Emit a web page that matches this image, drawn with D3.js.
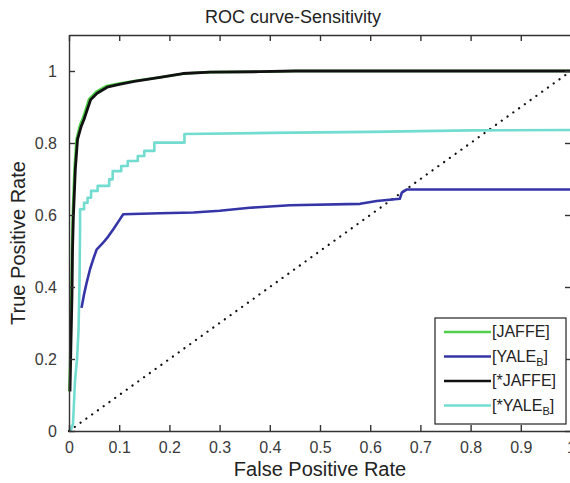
<!DOCTYPE html>
<html>
<head>
<meta charset="utf-8">
<script src="https://d3js.org/d3.v7.min.js"></script>
<style>
  body { margin: 0; background: #fff; }
  svg { display: block; font-family: "Liberation Sans", Arial, sans-serif; }
</style>
</head>
<body>
<div id="chart"></div>
<script>
// values
var xTicks = [0, 0.1, 0.2, 0.3, 0.4, 0.5, 0.6, 0.7, 0.8, 0.9, 1];
var yTicks = [0, 0.2, 0.4, 0.6, 0.8, 1];

// [JAFFE] (green, mostly hidden under the black one)
var jaffe = [[0.001,0.11],[0.003,0.25],[0.005,0.39],[0.006,0.5],[0.0075,0.6],[0.011,0.73],[0.015,0.81],[0.022,0.85],[0.028,0.87],[0.04,0.922],[0.054,0.942],[0.074,0.958],[0.1,0.965],[0.13,0.972],[0.18,0.982],[0.23,0.993],[0.28,0.997],[0.38,0.998],[0.45,1],[1,1]];
// [YALE_B]
var yale = [[0.025,0.342],[0.03,0.38],[0.035,0.411],[0.042,0.45],[0.048,0.476],[0.055,0.504],[0.068,0.523],[0.078,0.54],[0.088,0.56],[0.1,0.585],[0.108,0.602],[0.181,0.605],[0.248,0.607],[0.3,0.612],[0.36,0.62],[0.44,0.627],[0.58,0.631],[0.613,0.639],[0.659,0.645],[0.663,0.662],[0.673,0.671],[1,0.671]];
// [*JAFFE]
var starJaffe = [[0.002,0.11],[0.004,0.25],[0.006,0.38],[0.007,0.5],[0.0086,0.59],[0.0126,0.727],[0.017,0.81],[0.024,0.845],[0.03,0.866],[0.043,0.92],[0.056,0.938],[0.076,0.955],[0.1,0.963],[0.13,0.971],[0.181,0.982],[0.227,0.993],[0.281,0.997],[0.38,0.998],[0.45,1],[1,1]];
// [*YALE_B]
var starYale = [[0.003,0],[0.008,0.02],[0.012,0.14],[0.016,0.2],[0.019,0.28],[0.021,0.42],[0.022,0.56],[0.022,0.616],[0.030,0.616],[0.030,0.634],[0.037,0.634],[0.037,0.648],[0.044,0.648],[0.044,0.667],[0.057,0.667],[0.057,0.681],[0.080,0.681],[0.080,0.699],[0.087,0.699],[0.087,0.722],[0.104,0.722],[0.104,0.736],[0.117,0.736],[0.117,0.750],[0.137,0.750],[0.137,0.764],[0.150,0.764],[0.150,0.778],[0.170,0.778],[0.170,0.801],[0.230,0.801],[0.230,0.825],[0.4,0.828],[0.6,0.831],[0.8,0.835],[1,0.836]];
var chance = [[0,0],[1,1]];

var series = [
  {label: "[JAFFE]", sub: "", tail: "", values: jaffe, color: "#4fd04a"},
  {label: "[YALE", sub: "B", tail: "]", values: yale, color: "#3535a8"},
  {label: "[*JAFFE]", sub: "", tail: "", values: starJaffe, color: "#111"},
  {label: "[*YALE", sub: "B", tail: "]", values: starYale, color: "#72dcd0"}
];

var width = 570, height = 483;
var margin = {left: 69, top: 35, right: -1, bottom: 52};

var x = d3.scaleLinear().domain([0, 1]).range([margin.left, width - margin.right]);
var y = d3.scaleLinear().domain([0, 1.1]).range([height - margin.bottom, margin.top]);

var svg = d3.select("#chart").append("svg")
  .attr("width", width)
  .attr("height", height);

var line = d3.line()
  .x(function(d) { return x(d[0]); })
  .y(function(d) { return y(d[1]); });

// dotted diagonal
svg.append("path")
  .attr("d", line(chance))
  .attr("fill", "none")
  .attr("stroke", "#111")
  .attr("stroke-width", 2.2)
  .attr("stroke-linecap", "round")
  .attr("stroke-dasharray", "0.1,7");

// curves, green drawn first so black sits on it
var drawOrder = [series[0], series[3], series[1], series[2]];
svg.selectAll(".curve")
  .data(drawOrder)
  .enter().append("path")
  .attr("class", "curve")
  .attr("d", function(d) { return line(d.values); })
  .attr("fill", "none")
  .attr("stroke", function(d) { return d.color; })
  .attr("stroke-width", function(d) { return d.color == "#111" ? 2.8 : 2.6; })
  .attr("stroke-linejoin", "round");

// axes with inward ticks on all four sides
var axisColor = "#333";
function styleAxis(g) {
  g.selectAll("path").attr("stroke", axisColor).attr("stroke-width", 1.4);
  g.selectAll("line").attr("stroke", axisColor).attr("stroke-width", 1.4);
  g.selectAll("text").attr("fill", "#3a3a3a").style("font-size", "16px");
}

svg.append("g")
  .attr("transform", "translate(0," + y(0) + ")")
  .call(d3.axisBottom(x).tickValues(xTicks).tickSize(-6).tickSizeOuter(0).tickPadding(11)
    .tickFormat(function(d) { return d === 1 ? "1" : d === 0 ? "0" : d3.format(".1f")(d); }))
  .call(styleAxis);

svg.append("g")
  .attr("transform", "translate(0," + y(1.1) + ")")
  .call(d3.axisTop(x).tickValues(xTicks).tickSize(-6).tickSizeOuter(0).tickFormat(""))
  .call(styleAxis);

svg.append("g")
  .attr("transform", "translate(" + x(0) + ",0)")
  .call(d3.axisLeft(y).tickValues(yTicks).tickSize(-6).tickSizeOuter(0).tickPadding(12)
    .tickFormat(function(d) { return d === 0 || d === 1 ? String(d) : d3.format(".1f")(d); }))
  .call(styleAxis);

svg.append("g")
  .attr("transform", "translate(" + x(1) + ",0)")
  .call(d3.axisRight(y).tickValues(yTicks).tickSize(-6).tickSizeOuter(0).tickFormat(""))
  .call(styleAxis);

// titles
svg.append("text")
  .attr("x", 293).attr("y", 23)
  .attr("text-anchor", "middle")
  .attr("fill", "#222")
  .style("font-size", "18px")
  .text("ROC curve-Sensitivity");

svg.append("text")
  .attr("x", 320).attr("y", 476)
  .attr("text-anchor", "middle")
  .attr("fill", "#222")
  .style("font-size", "20px")
  .text("False Positive Rate");

svg.append("text")
  .attr("transform", "translate(25,243) rotate(-90)")
  .attr("text-anchor", "middle")
  .attr("fill", "#222")
  .style("font-size", "20px")
  .text("True Positive Rate");

// legend
var legend = svg.append("g").attr("transform", "translate(435,318)");
legend.append("rect")
  .attr("width", 131).attr("height", 106)
  .attr("fill", "#fff")
  .attr("stroke", "#222")
  .attr("stroke-width", 1.2);

var rows = legend.selectAll(".row")
  .data(series)
  .enter().append("g")
  .attr("class", "row")
  .attr("transform", function(d, i) { return "translate(0," + (14 + i * 24.5) + ")"; });

rows.append("line")
  .attr("x1", 9).attr("x2", 56)
  .attr("stroke", function(d) { return d.color; })
  .attr("stroke-width", 2.6);

var lt = rows.append("text")
  .attr("x", 57).attr("y", 5)
  .attr("fill", "#222")
  .style("font-size", "16px");
lt.append("tspan").text(function(d) { return d.label; });
lt.append("tspan")
  .attr("dy", 4)
  .style("font-size", "11px")
  .text(function(d) { return d.sub; });
lt.append("tspan")
  .attr("dy", function(d) { return d.sub ? -4 : 0; })
  .text(function(d) { return d.tail; });
</script>
</body>
</html>
